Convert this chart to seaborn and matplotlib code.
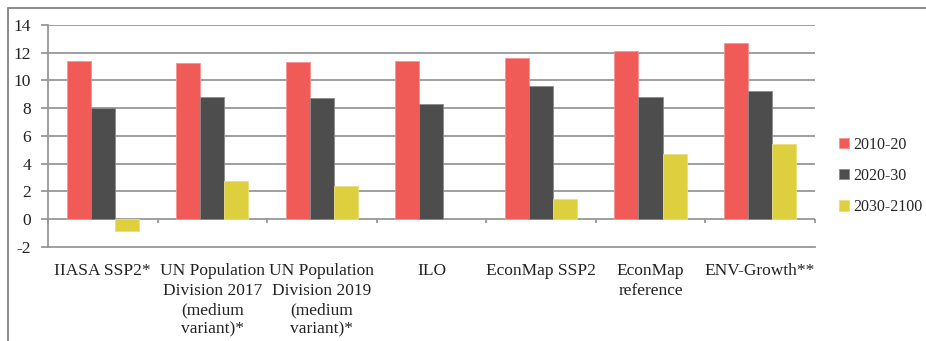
import numpy as np
import pandas as pd
import matplotlib
matplotlib.use("Agg")
import matplotlib.pyplot as plt
from matplotlib.lines import Line2D
import seaborn as sns

# Projections of growth by source and period
categories = [
    "IIASA SSP2*",
    "UN Population\nDivision 2017\n(medium\nvariant)*",
    "UN Population\nDivision 2019\n(medium\nvariant)*",
    "ILO",
    "EconMap SSP2",
    "EconMap\nreference",
    "ENV-Growth**",
]
periods = ["2010-20", "2020-30", "2030-2100"]
values_2010_20 = [11.4, 11.26, 11.35, 11.4, 11.6, 12.12, 12.72]
values_2020_30 = [8.0, 8.83, 8.76, 8.32, 9.6, 8.78, 9.24]
values_2030_2100 = [-0.87, 2.74, 2.38, np.nan, 1.49, 4.67, 5.43]
colors = ["#F05A57", "#4D4D4D", "#DDCF3E"]
yticks = [-2, 0, 2, 4, 6, 8, 10, 12, 14]

df = pd.DataFrame({
    "source": categories * 3,
    "period": np.repeat(periods, len(categories)),
    "value": values_2010_20 + values_2020_30 + values_2030_2100,
})

sns.set_style("white")
plt.rcParams["font.family"] = ["Liberation Serif", "DejaVu Serif"]
plt.rcParams["font.size"] = 12

fig = plt.figure(figsize=(9.26, 3.41), dpi=100)
ax = fig.add_axes([0.0518, 0.2757, 0.880 - 0.0518, 0.9267 - 0.2757])

sns.barplot(data=df, x="source", y="value", hue="period", order=categories,
            hue_order=periods, palette=colors, width=0.66, dodge=True,
            saturation=1, errorbar=None, ax=ax, zorder=3, linewidth=0.6)

for patch in ax.patches:
    fc = np.array(patch.get_facecolor())
    edge = fc.copy()
    edge[:3] = fc[:3] + (1 - fc[:3]) * 0.35
    patch.set_edgecolor(edge)

grid_color = "#979797"
ax.set_ylim(-2, 14)
ax.set_yticks(yticks)
ax.set_yticklabels([str(t) for t in yticks])
ax.set_xlim(-0.5, len(categories) - 0.5)
for t in yticks[1:]:
    ax.axhline(t, color=grid_color, lw=1.3, zorder=1)

# category separators on the zero line
ax.vlines(np.arange(len(categories) + 1) - 0.5, -0.3, 0, color=grid_color,
          lw=1.3, zorder=2, clip_on=False)

for side in ["top", "right"]:
    ax.spines[side].set_visible(False)
for side in ["left", "bottom"]:
    ax.spines[side].set_color(grid_color)
    ax.spines[side].set_linewidth(1.3)

ax.tick_params(axis="y", which="both", left=True, length=5, width=1.3,
               color=grid_color, pad=7, labelsize=12.5, labelcolor="#222222")
ax.tick_params(axis="x", which="both", bottom=False, pad=8, labelsize=12.5,
               labelcolor="#222222")
for lbl in ax.get_xticklabels():
    lbl.set_linespacing(1.3)
    lbl.set_verticalalignment("top")
ax.set_xlabel("")
ax.set_ylabel("")

handles, labels = ax.get_legend_handles_labels()
ax.legend(handles, labels, loc="center left", bbox_to_anchor=(0.906, 0.484),
          bbox_transform=fig.transFigure, frameon=False, fontsize=11.5,
          handlelength=0.6, handleheight=0.6, handletextpad=0.3,
          labelspacing=0.95, borderaxespad=0, borderpad=0)

# outer frame
frame_kw = dict(color="#8A8A8A", lw=1.4, transform=fig.transFigure)
fig.add_artist(Line2D([0.0081, 1.0], [0.9765, 0.9765], **frame_kw))
fig.add_artist(Line2D([0.0081, 0.0081], [0.0, 0.9765], **frame_kw))

fig.savefig("out.png", dpi=100, facecolor="white")
